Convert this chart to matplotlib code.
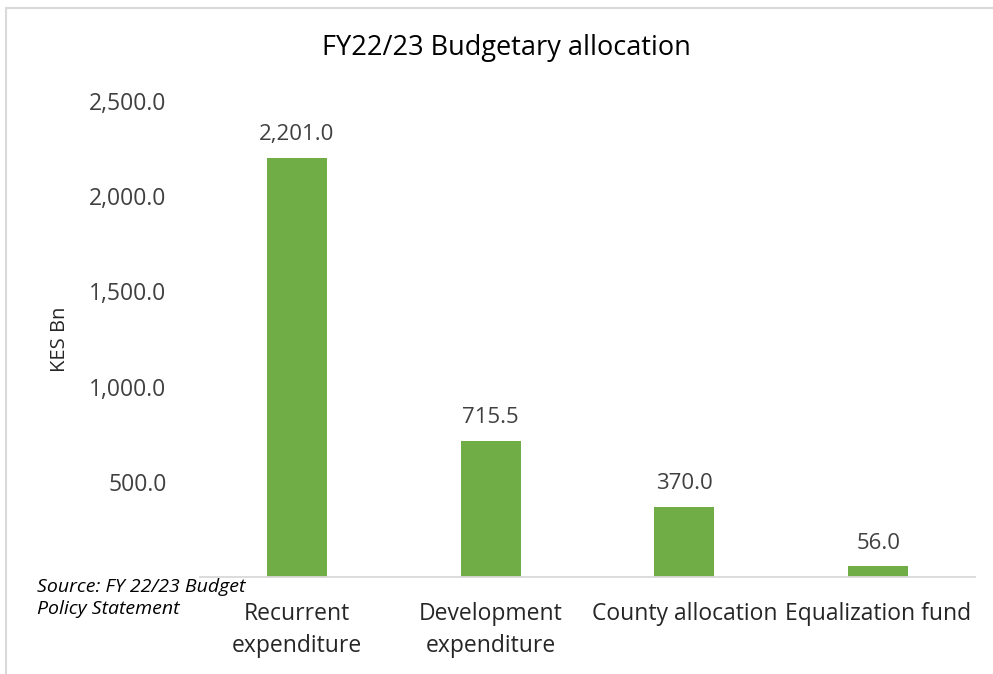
import matplotlib.pyplot as plt
from matplotlib.patches import Rectangle

categories = ["Recurrent\nexpenditure", "Development\nexpenditure", "County allocation", "Equalization fund"]
values = [2201.0, 715.5, 370.0, 56.0]
yticks = [500, 1000, 1500, 2000, 2500]

plt.rcParams['font.family'] = ['Open Sans', 'DejaVu Sans']

fig = plt.figure(figsize=(9.93, 6.74), dpi=100)
ax = fig.add_axes([0.2014, 0.1439, 0.7806, 0.7062])

x = range(len(categories))
ax.bar(x, values, width=0.31, color="#70AD47")
for i, v in zip(x, values):
    ax.annotate(f"{v:,.1f}", (i, v), xytext=(0, 9), textcoords="offset points",
                ha="center", va="bottom", fontsize=16, color="#404040")

ax.set_xlim(-0.5, len(categories) - 0.5)
ax.set_ylim(0, 2500)
ax.set_xticks(list(x))
ax.set_xticklabels(categories, fontsize=16.5, color="#262626", linespacing=1.45)
ax.set_yticks(yticks)
ax.set_yticklabels([f"{t:,.1f}" for t in yticks], fontsize=16.5, color="#404040")
ax.tick_params(axis="both", length=0)
ax.tick_params(axis="x", pad=18)
ax.tick_params(axis="y", pad=24)
for s in ["top", "right", "left"]:
    ax.spines[s].set_visible(False)
ax.spines["bottom"].set_color("#d9d9d9")
ax.spines["bottom"].set_linewidth(1.3)

ax.set_ylabel("KES Bn", fontsize=14.5, color="#262626", labelpad=14)

fig.text(0.51, 0.929, "FY22/23 Budgetary allocation", ha="center", va="center",
         fontsize=19.5, color="black")
fig.text(0.037, 0.113, "Source: FY 22/23 Budget\nPolicy Statement", ha="left", va="center",
         fontsize=14, style="italic", color="black", linespacing=1.3)

fig.patches.append(Rectangle((0.006, -0.01), 1.0, 0.998, transform=fig.transFigure,
                             fill=False, edgecolor="#d9d9d9", linewidth=1.5))

fig.savefig("out.png", dpi=100)
